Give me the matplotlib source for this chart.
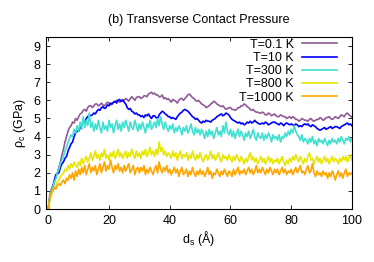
import numpy as np
import matplotlib
matplotlib.use("Agg")
import matplotlib.pyplot as plt

plt.rcParams['font.family'] = ['Liberation Sans', 'DejaVu Sans']
plt.rcParams['mathtext.default'] = 'regular'

title = "(b) Transverse Contact Pressure"
xlabel = "d$_s$ (Å)"
ylabel = "ρ$_c$ (GPa)"
labels = ["T=0.1 K", "T=10 K", "T=300 K", "T=800 K", "T=1000 K"]
colors = ["#905a96", "#0000ff", "#40e0d0", "#e6e600", "#ffa500"]
xticks = [0, 20, 40, 60, 80, 100]
yticks = [0, 1, 2, 3, 4, 5, 6, 7, 8, 9]

# sliding distance grid (Å), 0.5 Å step
x_ds = np.arange(0, 100.5, 0.5)

p01 = [0.0, 0.8, 1.1, 1.3, 1.5, 1.8, 2.0, 2.3, 2.6, 3.0,
       3.3, 3.7, 4.0, 4.3, 4.5, 4.6, 4.8, 4.75, 5.0, 4.9,
       5.1, 5.25, 5.3, 5.45, 5.5, 5.4, 5.6, 5.7, 5.7, 5.6,
       5.7, 5.8, 5.8, 5.7, 5.75, 5.85, 5.75, 5.7, 5.8, 5.9,
       5.85, 5.75, 5.8, 5.9, 5.9, 6.0, 6.0, 5.9, 5.95, 6.05,
       6.0, 6.1, 6.05, 5.95, 6.1, 6.2, 6.1, 6.0, 6.15, 6.2,
       6.2, 6.1, 6.15, 6.25, 6.25, 6.2, 6.35, 6.4, 6.45, 6.35,
       6.4, 6.3, 6.3, 6.2, 6.2, 6.3, 6.1, 6.15, 6.05, 6.1,
       6.0, 5.9, 6.05, 6.0, 5.95, 5.85, 6.0, 6.1, 6.1, 6.0,
       6.1, 6.2, 6.3, 6.35, 6.25, 6.15, 6.1, 6.0, 5.95, 6.0,
       5.9, 5.8, 5.75, 5.7, 5.6, 5.65, 5.7, 5.8, 5.85, 5.95,
       5.9, 5.8, 5.75, 5.7, 5.65, 5.7, 5.6, 5.5, 5.55, 5.6,
       5.6, 5.5, 5.5, 5.45, 5.5, 5.6, 5.6, 5.7, 5.7, 5.8,
       5.75, 5.65, 5.6, 5.5, 5.45, 5.5, 5.4, 5.35, 5.35, 5.3,
       5.3, 5.35, 5.3, 5.2, 5.2, 5.3, 5.25, 5.15, 5.2, 5.25,
       5.15, 5.1, 5.1, 5.2, 5.15, 5.1, 5.1, 5.0, 5.05, 5.1,
       5.0, 5.1, 5.05, 4.95, 4.95, 4.85, 4.9, 5.0, 4.95, 4.9,
       4.9, 4.85, 4.95, 5.0, 4.9, 4.85, 4.9, 4.95, 4.95, 5.05,
       5.0, 4.9, 4.95, 5.05, 5.05, 5.1, 5.0, 4.95, 5.0, 5.1,
       5.05, 5.0, 5.1, 5.2, 5.15, 5.1, 5.25, 5.3, 5.2, 5.15,
       5.05]

p10 = [0.0, 0.6, 0.9, 1.2, 1.6, 1.9, 1.95, 2.0, 2.3, 2.5,
       2.6, 2.8, 2.9, 3.2, 3.4, 3.6, 3.7, 4.0, 4.2, 4.3,
       4.3, 4.5, 4.6, 4.8, 4.75, 5.0, 5.1, 5.2, 5.15, 5.2,
       5.3, 5.25, 5.4, 5.5, 5.45, 5.6, 5.65, 5.55, 5.6, 5.75,
       5.7, 5.85, 5.8, 5.9, 5.95, 5.85, 6.0, 6.05, 5.95, 6.0,
       5.9, 5.8, 5.6, 5.5, 5.55, 5.4, 5.35, 5.25, 5.3, 5.2,
       5.2, 5.1, 5.15, 5.05, 5.2, 5.15, 5.25, 5.1, 5.0, 5.15,
       5.15, 5.05, 5.0, 5.2, 5.3, 5.4, 5.35, 5.25, 5.2, 5.1,
       5.1, 5.0, 5.05, 5.0, 4.95, 5.1, 5.2, 5.3, 5.35, 5.45,
       5.5, 5.45, 5.4, 5.3, 5.2, 5.1, 5.05, 4.95, 5.0, 4.9,
       4.8, 4.75, 4.85, 4.8, 4.9, 4.85, 4.85, 4.8, 4.9, 4.95,
       5.0, 5.1, 5.15, 5.2, 5.25, 5.15, 5.2, 5.3, 5.25, 5.2,
       5.05, 4.95, 4.9, 4.85, 4.8, 4.75, 4.8, 4.7, 4.75, 4.65,
       4.7, 4.8, 4.75, 4.85, 4.75, 4.8, 4.9, 4.8, 4.75, 4.7,
       4.7, 4.75, 4.7, 4.8, 4.75, 4.65, 4.7, 4.75, 4.8, 4.8,
       4.75, 4.7, 4.65, 4.75, 4.7, 4.6, 4.7, 4.75, 4.7, 4.65,
       4.7, 4.65, 4.6, 4.7, 4.65, 4.55, 4.6, 4.55, 4.65, 4.7,
       4.65, 4.7, 4.6, 4.55, 4.65, 4.6, 4.55, 4.45, 4.4, 4.35,
       4.4, 4.45, 4.5, 4.4, 4.45, 4.5, 4.55, 4.45, 4.5, 4.55,
       4.55, 4.5, 4.45, 4.55, 4.6, 4.65, 4.7, 4.75, 4.65, 4.7,
       4.6]

p300 = [0.0, 0.7, 1.0, 1.2, 1.5, 1.7, 2.0, 2.2, 2.5, 2.7,
        2.9, 3.2, 3.4, 3.7, 3.9, 4.1, 4.0, 4.4, 4.2, 4.6,
        4.3, 4.8, 4.4, 5.1, 4.5, 4.9, 4.6, 5.3, 4.5, 4.8,
        4.3, 4.7, 4.4, 4.9, 4.5, 4.2, 4.8, 4.4, 4.6, 4.3,
        4.9, 4.5, 4.7, 4.2, 4.6, 4.9, 4.4, 4.7, 4.3, 4.8,
        4.5, 4.9, 4.6, 4.3, 4.8, 4.5, 4.4, 4.9, 4.6, 4.3,
        4.7, 4.4, 4.8, 4.5, 4.2, 4.7, 4.5, 4.9, 4.4, 4.6,
        4.8, 4.5, 5.0, 4.6, 5.1, 4.7, 4.4, 4.8, 4.5, 4.3,
        4.6, 4.4, 4.7, 4.2, 4.5, 4.3, 4.6, 4.4, 4.1, 4.5,
        4.3, 4.6, 4.2, 4.4, 4.7, 4.3, 4.1, 4.5, 4.2, 4.4,
        4.1, 4.4, 4.2, 3.9, 4.3, 4.0, 4.4, 4.1, 4.3, 3.9,
        4.2, 4.5, 4.1, 4.3, 4.0, 4.6, 4.2, 4.8, 4.3, 4.1,
        4.4, 4.0, 4.3, 3.9, 4.2, 4.4, 4.0, 4.3, 4.1, 3.8,
        4.2, 4.0, 4.3, 3.9, 4.1, 4.4, 4.0, 3.8, 4.2, 4.0,
        3.9, 4.2, 3.8, 4.1, 3.9, 4.2, 4.0, 3.7, 4.1, 3.9,
        4.0, 3.8, 4.1, 3.7, 4.0, 3.9, 4.2, 4.0, 4.3, 4.1,
        4.4, 4.2, 4.6, 4.3, 4.1, 4.0, 3.8, 4.1, 3.7, 3.9,
        3.8, 3.6, 3.9, 3.7, 4.0, 3.6, 3.8, 3.5, 3.9, 3.7,
        3.8, 3.6, 3.9, 3.7, 3.5, 3.8, 3.6, 3.9, 3.7, 3.8,
        3.6, 3.9, 3.7, 4.0, 3.8, 3.6, 3.9, 3.8, 4.0, 3.7,
        3.9]

p800 = [0.0, 0.5, 0.8, 1.0, 1.2, 1.3, 1.5, 1.6, 1.8, 1.9,
        2.0, 2.2, 2.1, 2.4, 2.2, 2.5, 2.3, 2.6, 2.4, 2.3,
        2.6, 2.4, 2.8, 2.5, 2.7, 2.9, 2.6, 2.8, 3.1, 2.7,
        2.9, 3.2, 2.8, 3.0, 2.7, 3.1, 2.9, 3.3, 2.8, 3.0,
        2.7, 3.1, 2.9, 3.2, 2.8, 3.0, 3.3, 2.9, 3.1, 2.8,
        3.0, 3.2, 2.8, 3.1, 2.9, 3.3, 3.0, 2.8, 3.2, 2.9,
        3.1, 2.8, 3.2, 3.0, 3.3, 2.9, 3.1, 3.4, 3.0, 3.2,
        2.9, 3.3, 3.0, 3.7, 3.2, 3.4, 3.0, 3.2, 2.9, 3.1,
        3.0, 2.8, 3.2, 2.9, 3.1, 2.7, 3.0, 3.2, 2.8, 3.0,
        2.9, 3.1, 2.7, 3.0, 2.8, 3.2, 2.9, 2.7, 3.0, 2.8,
        3.1, 2.8, 2.6, 2.9, 3.0, 2.7, 2.9, 3.2, 2.8, 3.0,
        2.7, 2.9, 3.1, 2.8, 2.6, 3.0, 2.8, 2.9, 2.7, 3.0,
        2.8, 2.6, 2.9, 2.7, 3.0, 2.8, 2.6, 2.9, 2.7, 2.5,
        2.8, 2.6, 2.9, 3.1, 2.7, 2.9, 2.6, 2.8, 2.5, 2.7,
        2.9, 2.6, 2.8, 2.5, 2.7, 2.9, 2.6, 2.8, 2.5, 2.7,
        2.6, 2.8, 2.5, 2.7, 2.9, 2.6, 2.4, 2.7, 2.5, 2.8,
        2.6, 2.9, 2.7, 3.0, 2.8, 2.6, 2.9, 2.7, 2.5, 2.8,
        2.6, 2.9, 3.1, 2.7, 2.8, 2.5, 2.7, 2.9, 2.6, 2.8,
        2.5, 2.7, 2.9, 2.6, 2.8, 2.5, 2.7, 2.9, 2.6, 2.8,
        2.7, 2.5, 2.8, 2.6, 2.9, 2.7, 2.9, 2.6, 2.8, 3.0,
        2.7]

p1000 = [0.0, 0.6, 0.9, 1.0, 1.2, 1.1, 1.3, 1.4, 1.3, 1.5,
         1.6, 1.4, 1.7, 1.6, 1.9, 1.7, 2.0, 1.6, 2.1, 1.8,
         2.2, 1.9, 2.3, 2.0, 2.4, 1.9, 2.2, 2.5, 2.0, 2.3,
         2.1, 2.4, 1.9, 2.2, 2.5, 2.0, 2.3, 2.6, 2.1, 2.4,
         2.2, 2.7, 2.3, 2.0, 2.4, 2.2, 2.5, 2.1, 2.3, 2.0,
         2.4, 2.1, 2.3, 2.5, 2.0, 2.2, 2.4, 1.9, 2.2, 2.3,
         2.0, 2.3, 2.1, 2.4, 1.9, 2.2, 2.0, 2.3, 2.1, 1.9,
         2.2, 2.4, 2.0, 2.6, 2.2, 2.0, 2.3, 2.1, 2.4, 2.0,
         2.2, 1.9, 2.1, 2.3, 2.0, 2.2, 1.8, 2.1, 2.3, 1.9,
         2.0, 2.2, 1.8, 2.1, 1.9, 2.3, 2.0, 1.8, 2.1, 1.9,
         2.2, 1.9, 2.1, 1.8, 2.0, 2.3, 1.9, 2.1, 1.7, 2.0,
         1.9, 2.2, 2.0, 1.8, 2.1, 1.9, 2.2, 2.0, 1.8, 2.1,
         2.0, 1.8, 2.2, 1.9, 2.1, 2.3, 1.9, 2.1, 2.0, 2.2,
         1.9, 2.1, 2.3, 2.0, 2.2, 1.9, 2.1, 2.4, 2.0, 2.2,
         2.0, 2.3, 2.1, 1.9, 2.2, 2.0, 2.3, 2.1, 1.9, 2.2,
         2.0, 2.2, 1.9, 2.1, 2.3, 2.0, 2.2, 1.9, 2.1, 2.0,
         2.2, 1.9, 2.1, 2.3, 2.0, 2.2, 2.4, 2.0, 2.1, 1.9,
         2.2, 2.4, 2.0, 2.1, 2.5, 2.0, 1.8, 2.1, 1.9, 2.0,
         1.8, 2.1, 1.9, 2.0, 1.7, 2.0, 1.8, 2.1, 1.9, 1.6,
         1.9, 2.1, 1.8, 2.0, 1.7, 2.0, 2.2, 1.8, 2.0, 1.9,
         2.0]

series = [p01, p10, p300, p800, p1000]

fig = plt.figure(figsize=(3.74, 2.62), dpi=100)
ax = fig.add_axes([0.123, 0.202, 0.818, 0.657])

for ys, lab, c in zip(series, labels, colors):
    ax.plot(x_ds, ys, color=c, lw=1.2, label=lab)

ax.set_xlim(-0.75, 100)
ax.set_ylim(0, 9.5)
ax.set_xticks(xticks)
ax.set_yticks(yticks)
ax.tick_params(direction='in', top=True, right=True, length=3, width=0.6,
               labelsize=9, pad=4)
for s in ax.spines.values():
    s.set_linewidth(0.8)

ax.set_title(title, fontsize=9, pad=10)
ax.set_xlabel(xlabel, fontsize=9, labelpad=2)
ax.set_ylabel(ylabel, fontsize=9, labelpad=4)

ax.legend(loc='upper right', bbox_to_anchor=(0.951, 0.99), frameon=False,
          markerfirst=False, fontsize=9, borderpad=0, borderaxespad=0,
          handlelength=2.8, handletextpad=0.64, labelspacing=0.1)

fig.savefig("out.png", dpi=100)
